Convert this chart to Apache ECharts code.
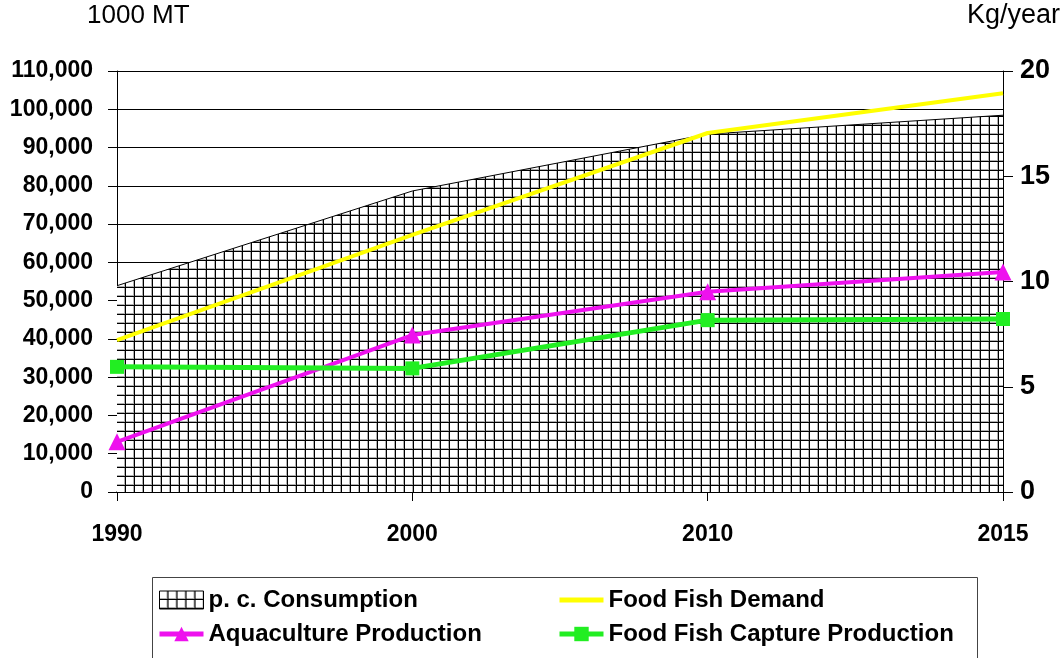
<!DOCTYPE html>
<html>
<head>
<meta charset="utf-8">
<script src="https://cdn.jsdelivr.net/npm/echarts@6/dist/echarts.min.js"></script>
<style>html,body{margin:0;padding:0;background:#fff;}#c{width:1064px;height:658px;}</style>
</head>
<body>
<div id="c"></div>
<script>
var years = ['1990', '2000', '2010', '2015'];
var consumption = [9.8, 14.3, 17.0, 17.9];           // Kg/year (right axis)
var foodFishDemand = [39700, 67200, 93800, 104200];   // 1000 MT
var aquaculture = [13100, 41000, 52300, 57500];       // 1000 MT
var capture = [32700, 32300, 44900, 45200];           // 1000 MT
var leftTicks = {min: 0, max: 110000, interval: 10000};
var rightTicks = {min: 0, max: 20, interval: 5};

function makeGrid() {
  var cv = document.createElement('canvas');
  cv.width = 9; cv.height = 9;
  var ctx = cv.getContext('2d');
  ctx.fillStyle = '#ffffff';
  ctx.fillRect(0, 0, 9, 9);
  ctx.fillStyle = '#b0b0b0';
  ctx.fillRect(7, 0, 1, 9);
  ctx.fillRect(0, 7, 9, 1);
  ctx.fillStyle = '#000000';
  ctx.fillRect(8, 0, 1, 9);
  ctx.fillRect(0, 8, 9, 1);
  return cv;
}
var pattern = {image: makeGrid(), repeat: 'repeat'};

var chart = echarts.init(document.getElementById('c'), null, {renderer: 'canvas'});
var FONT = 'Liberation Sans, Arial, sans-serif';
var legendText = {fontFamily: FONT, fontWeight: 'bold', fontSize: 24, color: '#000'};

chart.setOption({
  animation: false,
  backgroundColor: '#fff',
  grid: {left: 117, right: 61, top: 71, bottom: 166},
  graphic: [{
    type: 'rect', left: 150, top: 575, silent: true,
    shape: {width: 825, height: 100},
    style: {fill: 'none', stroke: '#444', lineWidth: 1}
  }],
  legend: [{
    orient: 'vertical', left: 152, top: 583, itemGap: 10,
    itemWidth: 44, itemHeight: 18, itemSymbolGap: 0, textStyle: legendText,
    data: [
      {name: 'p. c. Consumption', icon: 'rect', itemStyle: {color: pattern, borderColor: '#000', borderWidth: 1}},
      {name: 'Aquaculture Production', lineStyle: {width: 5}}
    ]
  }, {
    orient: 'vertical', left: 552, top: 583, itemGap: 10,
    itemWidth: 44, itemHeight: 18, textStyle: legendText,
    data: [
      {name: 'Food Fish Demand', lineStyle: {width: 5}, itemStyle: {color: 'rgba(0,0,0,0)', borderWidth: 0, opacity: 0}},
      {name: 'Food Fish Capture Production', lineStyle: {width: 5}}
    ]
  }],
  xAxis: {
    type: 'category', data: years, boundaryGap: false,
    axisLine: {lineStyle: {color: '#000', width: 1.5}},
    axisTick: {show: true, alignWithLabel: true, length: 9, lineStyle: {color: '#000'}},
    axisLabel: {margin: 31, fontFamily: FONT, fontWeight: 'bold', fontSize: 23, color: '#000'},
    splitLine: {show: false}
  },
  yAxis: [{
    type: 'value', min: leftTicks.min, max: leftTicks.max, interval: leftTicks.interval,
    name: '1000 MT', nameLocation: 'end', nameGap: 42,
    nameTextStyle: {fontFamily: FONT, fontSize: 26, color: '#000', align: 'left', padding: [0, 0, 0, -30]},
    axisLine: {show: true, lineStyle: {color: '#000', width: 1}},
    axisTick: {show: true, length: 9, lineStyle: {color: '#000'}},
    axisLabel: {margin: 24, fontFamily: FONT, fontWeight: 'bold', fontSize: 23, color: '#000',
      formatter: function (v) { return v.toLocaleString('en-US'); }},
    splitLine: {show: true, lineStyle: {color: '#000', width: 1}}
  }, {
    type: 'value', min: rightTicks.min, max: rightTicks.max, interval: rightTicks.interval,
    position: 'right',
    name: 'Kg/year', nameLocation: 'end', nameGap: 42,
    nameTextStyle: {fontFamily: FONT, fontSize: 27, color: '#000', align: 'left', padding: [0, 0, 0, -36]},
    axisLine: {show: true, lineStyle: {color: '#000', width: 1}},
    axisTick: {show: true, length: 10, lineStyle: {color: '#000'}},
    axisLabel: {margin: 17, fontFamily: FONT, fontWeight: 'bold', fontSize: 27, color: '#000'},
    splitLine: {show: false}
  }],
  series: [{
    name: 'p. c. Consumption', type: 'line', yAxisIndex: 1, data: consumption,
    symbol: 'none', lineStyle: {color: '#000', width: 1},
    itemStyle: {color: '#000'},
    areaStyle: {color: pattern, opacity: 1}, z: 1
  }, {
    name: 'Food Fish Demand', type: 'line', data: foodFishDemand,
    symbol: 'none', lineStyle: {color: '#ffff00', width: 4},
    itemStyle: {color: '#ffff00'}, z: 3
  }, {
    name: 'Aquaculture Production', type: 'line', data: aquaculture,
    symbol: 'triangle', symbolSize: 17,
    lineStyle: {color: '#ee11ee', width: 4},
    itemStyle: {color: '#ee11ee'}, z: 4
  }, {
    name: 'Food Fish Capture Production', type: 'line', data: capture,
    symbol: 'rect', symbolSize: 14,
    lineStyle: {color: '#22ee22', width: 5},
    itemStyle: {color: '#22ee22'}, z: 4
  }]
});
</script>
</body>
</html>
